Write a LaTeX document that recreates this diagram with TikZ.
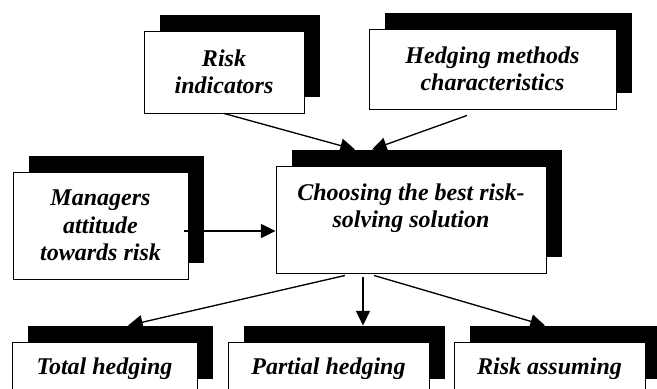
\documentclass[tikz,border=0pt]{standalone}
\usepackage{fontspec}
\setmainfont{Liberation Serif}
\usetikzlibrary{arrows.meta,shadows,calc}

\tikzset{
    riskbox/.style={draw, line width=0.7pt, fill=white, align=center, inner sep=2pt,
        font=\fontsize{18}{20.5}\selectfont\bfseries\itshape,
        drop shadow={shadow xshift=12pt, shadow yshift=12pt, fill=black, opacity=1}},
    link/.style={->, line width=1pt}
}

\begin{document}
\begin{tikzpicture}[x=0.75pt, y=-0.75pt, >={Triangle[length=11pt,width=10.5pt]}]
        \clip (0,0) rectangle (657,389);
        \node[riskbox, minimum width=120pt, minimum height=61.5pt] (risk) at (224,72) {Risk\\indicators};
        \node[riskbox, minimum width=185.25pt, minimum height=60pt] (hedge) at (492.5,69) {Hedging methods\\characteristics};
        \node[riskbox, minimum width=131.25pt, minimum height=80.25pt] (manage) at (100.5,225.5) {Managers\\attitude\\towards risk};
        \node[riskbox, minimum width=202.5pt, minimum height=80.25pt] (choose) at (411,219.5) {Choosing the best risk-\\solving solution\\~};
        \node[riskbox, minimum width=138.75pt, minimum height=39.75pt] (total) at (104.5,368.5) {Total hedging};
        \node[riskbox, minimum width=150.75pt, minimum height=39.75pt] (partial) at (328.5,368.5) {Partial hedging};
        \node[riskbox, minimum width=143.25pt, minimum height=39.75pt] (assume) at (549.5,368.5) {Risk assuming};
        \draw[link] (risk.south) -- ($(choose.north)+(-56,-16)$);
        \draw[link] ($(hedge.south)+(-25.5,6)$) -- ($(choose.north)+(-39,-16)$);
        \draw[link] ($(manage.east)+(-4,5.5)$) -- ($(choose.west)+(0,11.5)$);
        \draw[link] ($(choose.south)+(-66,2)$) -- ($(total.north)+(23.5,-16)$);
        \draw[link] ($(choose.south)+(-48,4)$) -- ($(partial.north)+(34.5,-16)$);
        \draw[link] ($(choose.south)+(-37,2)$) -- ($(assume.north)+(-4.5,-16)$);
\end{tikzpicture}
\end{document}
